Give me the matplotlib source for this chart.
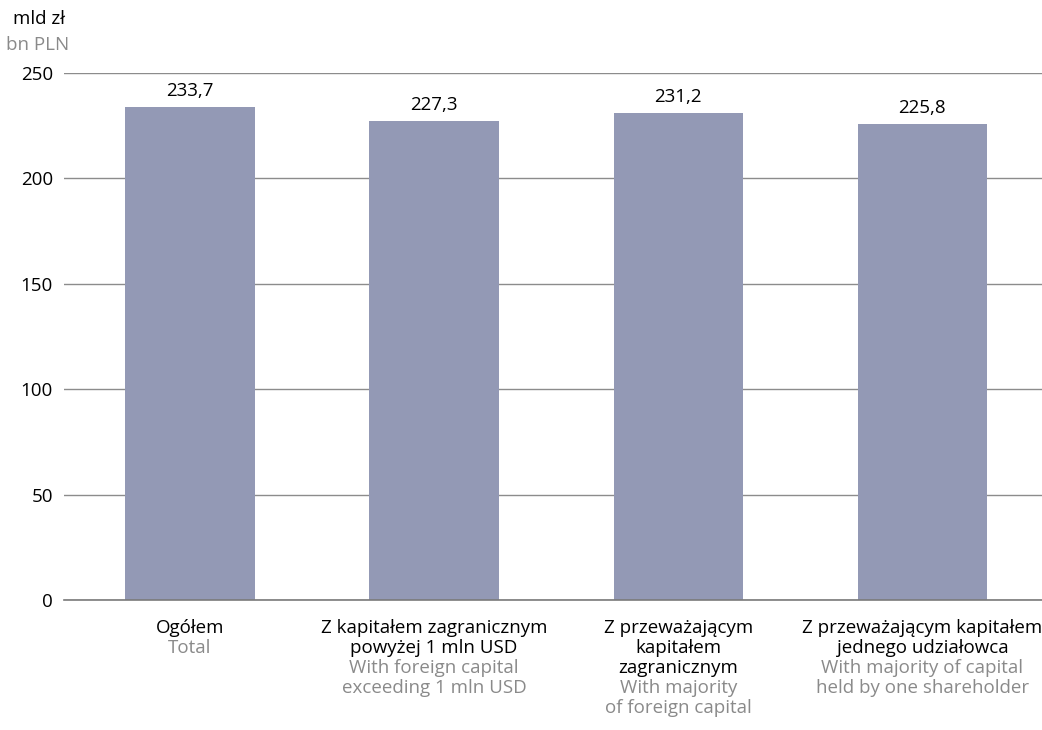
import matplotlib.pyplot as plt

plt.rcParams['font.family'] = ['Open Sans', 'DejaVu Sans']

values = [233.7, 227.3, 231.2, 225.8]
labels_pl = ['Ogółem',
             'Z kapitałem zagranicznym\npowyżej 1 mln USD',
             'Z przeważającym\nkapitałem\nzagranicznym',
             'Z przeważającym kapitałem\njednego udziałowca']
labels_en = ['Total',
             'With foreign capital\nexceeding 1 mln USD',
             'With majority\nof foreign capital',
             'With majority of capital\nheld by one shareholder']
yticks = [0, 50, 100, 150, 200, 250]

bar_color = '#9399b5'
grey_text = '#8a8a8a'
fs = 13.5

fig = plt.figure(figsize=(10.42, 7.30), dpi=100)
ax = fig.add_axes([0.0614, 0.178, 0.9386, 0.722])

x = list(range(len(values)))
ax.bar(x, values, width=0.53, color=bar_color, zorder=2)

for xi, v in zip(x, values):
    ax.annotate(f'{v:.1f}'.replace('.', ','), (xi, v), xytext=(0, 5),
                textcoords='offset points', ha='center', va='bottom', fontsize=fs)

ax.set_ylim(0, 250)
ax.set_xlim(-0.516, 3.49)
ax.set_yticks(yticks)
ax.set_yticklabels([str(t) for t in yticks], fontsize=fs)
ax.yaxis.grid(True, color='#8c8c8c', linewidth=1.0, zorder=0)
ax.tick_params(axis='y', length=0, pad=8)
ax.tick_params(axis='x', length=0)
ax.set_xticks([])
for s in ['top', 'right', 'left']:
    ax.spines[s].set_visible(False)
ax.spines['bottom'].set_color('#7a7a7a')
ax.spines['bottom'].set_linewidth(1.2)

# two-colour category labels, one line at a time (20 px step)
step = 14.4
for xi, pl, en in zip(x, labels_pl, labels_en):
    lines = [(t, 'black') for t in pl.split('\n')] + [(t, grey_text) for t in en.split('\n')]
    for k, (txt, col) in enumerate(lines):
        ax.annotate(txt, (xi, 0), xycoords=('data', 'axes fraction'),
                    xytext=(0, -20 - k * step), textcoords='offset points',
                    ha='center', va='center', fontsize=fs, color=col)

fig.text(0.012, 0.974, 'mld zł', fontsize=fs, ha='left', va='center')
fig.text(0.006, 0.939, 'bn PLN', fontsize=fs, ha='left', va='center', color=grey_text)

fig.savefig('out.png', dpi=100)
